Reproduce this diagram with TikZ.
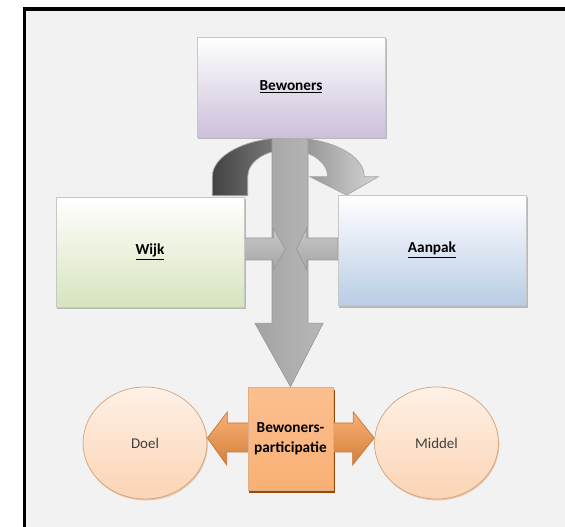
\documentclass[tikz,border=0pt]{standalone}
\usepackage{fontspec}
\setmainfont{Carlito}
\usepackage{xcolor}
\usepackage{tikz}
\usetikzlibrary{shapes.geometric, calc, backgrounds}
\definecolor{panelgrey}{HTML}{F2F2F2}
\definecolor{lilac}{HTML}{CCC0DA}
\definecolor{leafgreen}{HTML}{D7E4BD}
\definecolor{skyblue}{HTML}{B9CDE5}
\definecolor{peach}{HTML}{FAB47C}
\definecolor{tangerine}{HTML}{F79646}
\definecolor{rust}{HTML}{984807}
\definecolor{cream}{HTML}{FEF1E6}
\definecolor{apricot}{HTML}{FBD4B4}
\definecolor{tan}{HTML}{D2A37C}
\tikzstyle{box} = [rectangle, 
minimum width=3.76cm, 
minimum height=2.2cm, 
inner sep=0pt, 
text centered, 
draw=black!22, 
font=\fontsize{8.7}{10}\selectfont\bfseries]
\tikzstyle{topbox} = [box, minimum height=2cm, top color=white, bottom color=lilac]
\tikzstyle{leftbox} = [box, top color=white, bottom color=leafgreen]
\tikzstyle{rightbox} = [box, top color=white, bottom color=skyblue]
\tikzstyle{centrebox} = [rectangle, 
minimum width=1.7cm, 
minimum height=2.06cm, 
inner sep=0pt, 
align=center, 
draw=tangerine!80!black!60, 
top color=peach!85!white, 
bottom color=peach!85!tangerine, 
font=\fontsize{8.7}{11.4}\selectfont\bfseries]
\tikzstyle{bubble} = [ellipse, 
minimum width=2.48cm, 
minimum height=2.24cm, 
inner sep=0pt, 
draw=tan, 
top color=cream, 
bottom color=apricot, 
text=black!75, 
font=\fontsize{8.5}{10}\selectfont]
\tikzstyle{shade} = [fill=black!28]
\tikzstyle{greyarrow} = [draw=black!40, line width=0.4pt, left color=black!36, middle color=black!8, right color=black!28]
\tikzstyle{sidearrow} = [draw=black!40, line width=0.4pt, top color=black!22, middle color=black!5, bottom color=black!35]
\tikzstyle{turnarrow} = [draw=black!35, line width=0.4pt, left color=black!74, middle color=black!52, right color=black!16]
\tikzstyle{orangearrow} = [draw=tangerine!80!black, line width=0.4pt, top color=tangerine!75, middle color=tangerine, bottom color=tangerine!85!black]

\begin{document}
\begin{tikzpicture}[x=0.02cm, y=0.02cm]

    \useasboundingbox (0,0) rectangle (565,527);

    \node (bew) [topbox] at (291,440) {\underline{Bewoners}};
    \node (wijk) [leftbox] at (150,275) {\underline{Wijk}};
    \node (aanpak) [rightbox] at (432,276.5) {\underline{Aanpak}};
    \node (part) [centrebox] at (290.5,88.5) {Bewoners-\\participatie};
    \node (doel) [bubble] at (145,84) {Doel};
    \node (middel) [bubble] at (436.5,84) {Middel};

    \begin{scope}[on background layer]
    \fill [panelgrey] (24.5,-20) rectangle (600,518);
    \draw [line width=2pt] (24.5,-20) -- (24.5,518) -- (600,518);

    % shadows under the boxes
    \fill [shade] ($(bew.south west)+(1.5,-2)$) rectangle ($(bew.north east)+(1.5,-2)$);
    \fill [shade] ($(wijk.south west)+(1.5,-2)$) rectangle ($(wijk.north east)+(1.5,-2)$);
    \fill [shade] ($(aanpak.south west)+(1.5,-2)$) rectangle ($(aanpak.north east)+(1.5,-2)$);
    \fill [rust] ($(part.south west)+(1.5,-3)$) rectangle ($(part.north east)+(1.5,-3)$);
    \fill [tan!60] ($(doel.center)+(0.8,-1.5)$) ellipse [x radius=1.24cm, y radius=1.12cm];
    \fill [tan!60] ($(middel.center)+(0.8,-1.5)$) ellipse [x radius=1.24cm, y radius=1.12cm];

    % u-turn from Wijk over to Aanpak
    \draw [turnarrow] ($(wijk.north east)+(-32,1)$) -- ++(0,19)
        arc [start angle=180, end angle=0, x radius=1.52cm, y radius=0.78cm]
        -- ++(14,0) -- ($(aanpak.north west)+(9,0)$) -- ++(-37,18.5) -- ++(18,0)
        arc [start angle=0, end angle=180, x radius=0.8cm, y radius=0.54cm]
        -- ++(0,-19) -- cycle;

    % big arrow down to the participation box
    \draw [greyarrow] ($(bew.south)+(-19,0)$) -- ++(0,-186) -- ++(-17,0) -- (part.north)
        -- ($(bew.south)+(32,-186)$) -- ++(-15,0) -- ($(bew.south)+(17,0)$) -- cycle;

    \draw [sidearrow] ($(wijk.east)+(0,-8)$) -- ++(29,0) -- ++(0,-10) -- ++(12,21)
        -- ++(-12,21) -- ++(0,-10) -- ++(-29,0) -- cycle;
    \draw [sidearrow] ($(aanpak.west)+(0,-9.5)$) -- ++(-31,0) -- ++(0,-10) -- ++(-10,21)
        -- ++(10,21) -- ++(0,-10) -- ++(31,0) -- cycle;

    % double arrow between Doel and Middel
    \draw [orangearrow] ($(doel.east)+(0,5)$) -- ++(20,26) -- ++(0,-11) -- ++(126,0)
        -- ++(0,11) -- ($(middel.west)+(0,5)$) -- ++(-21.5,-27) -- ++(0,13)
        -- ++(-126,0) -- ++(0,-13) -- cycle;
    \end{scope}

\end{tikzpicture}
\end{document}
